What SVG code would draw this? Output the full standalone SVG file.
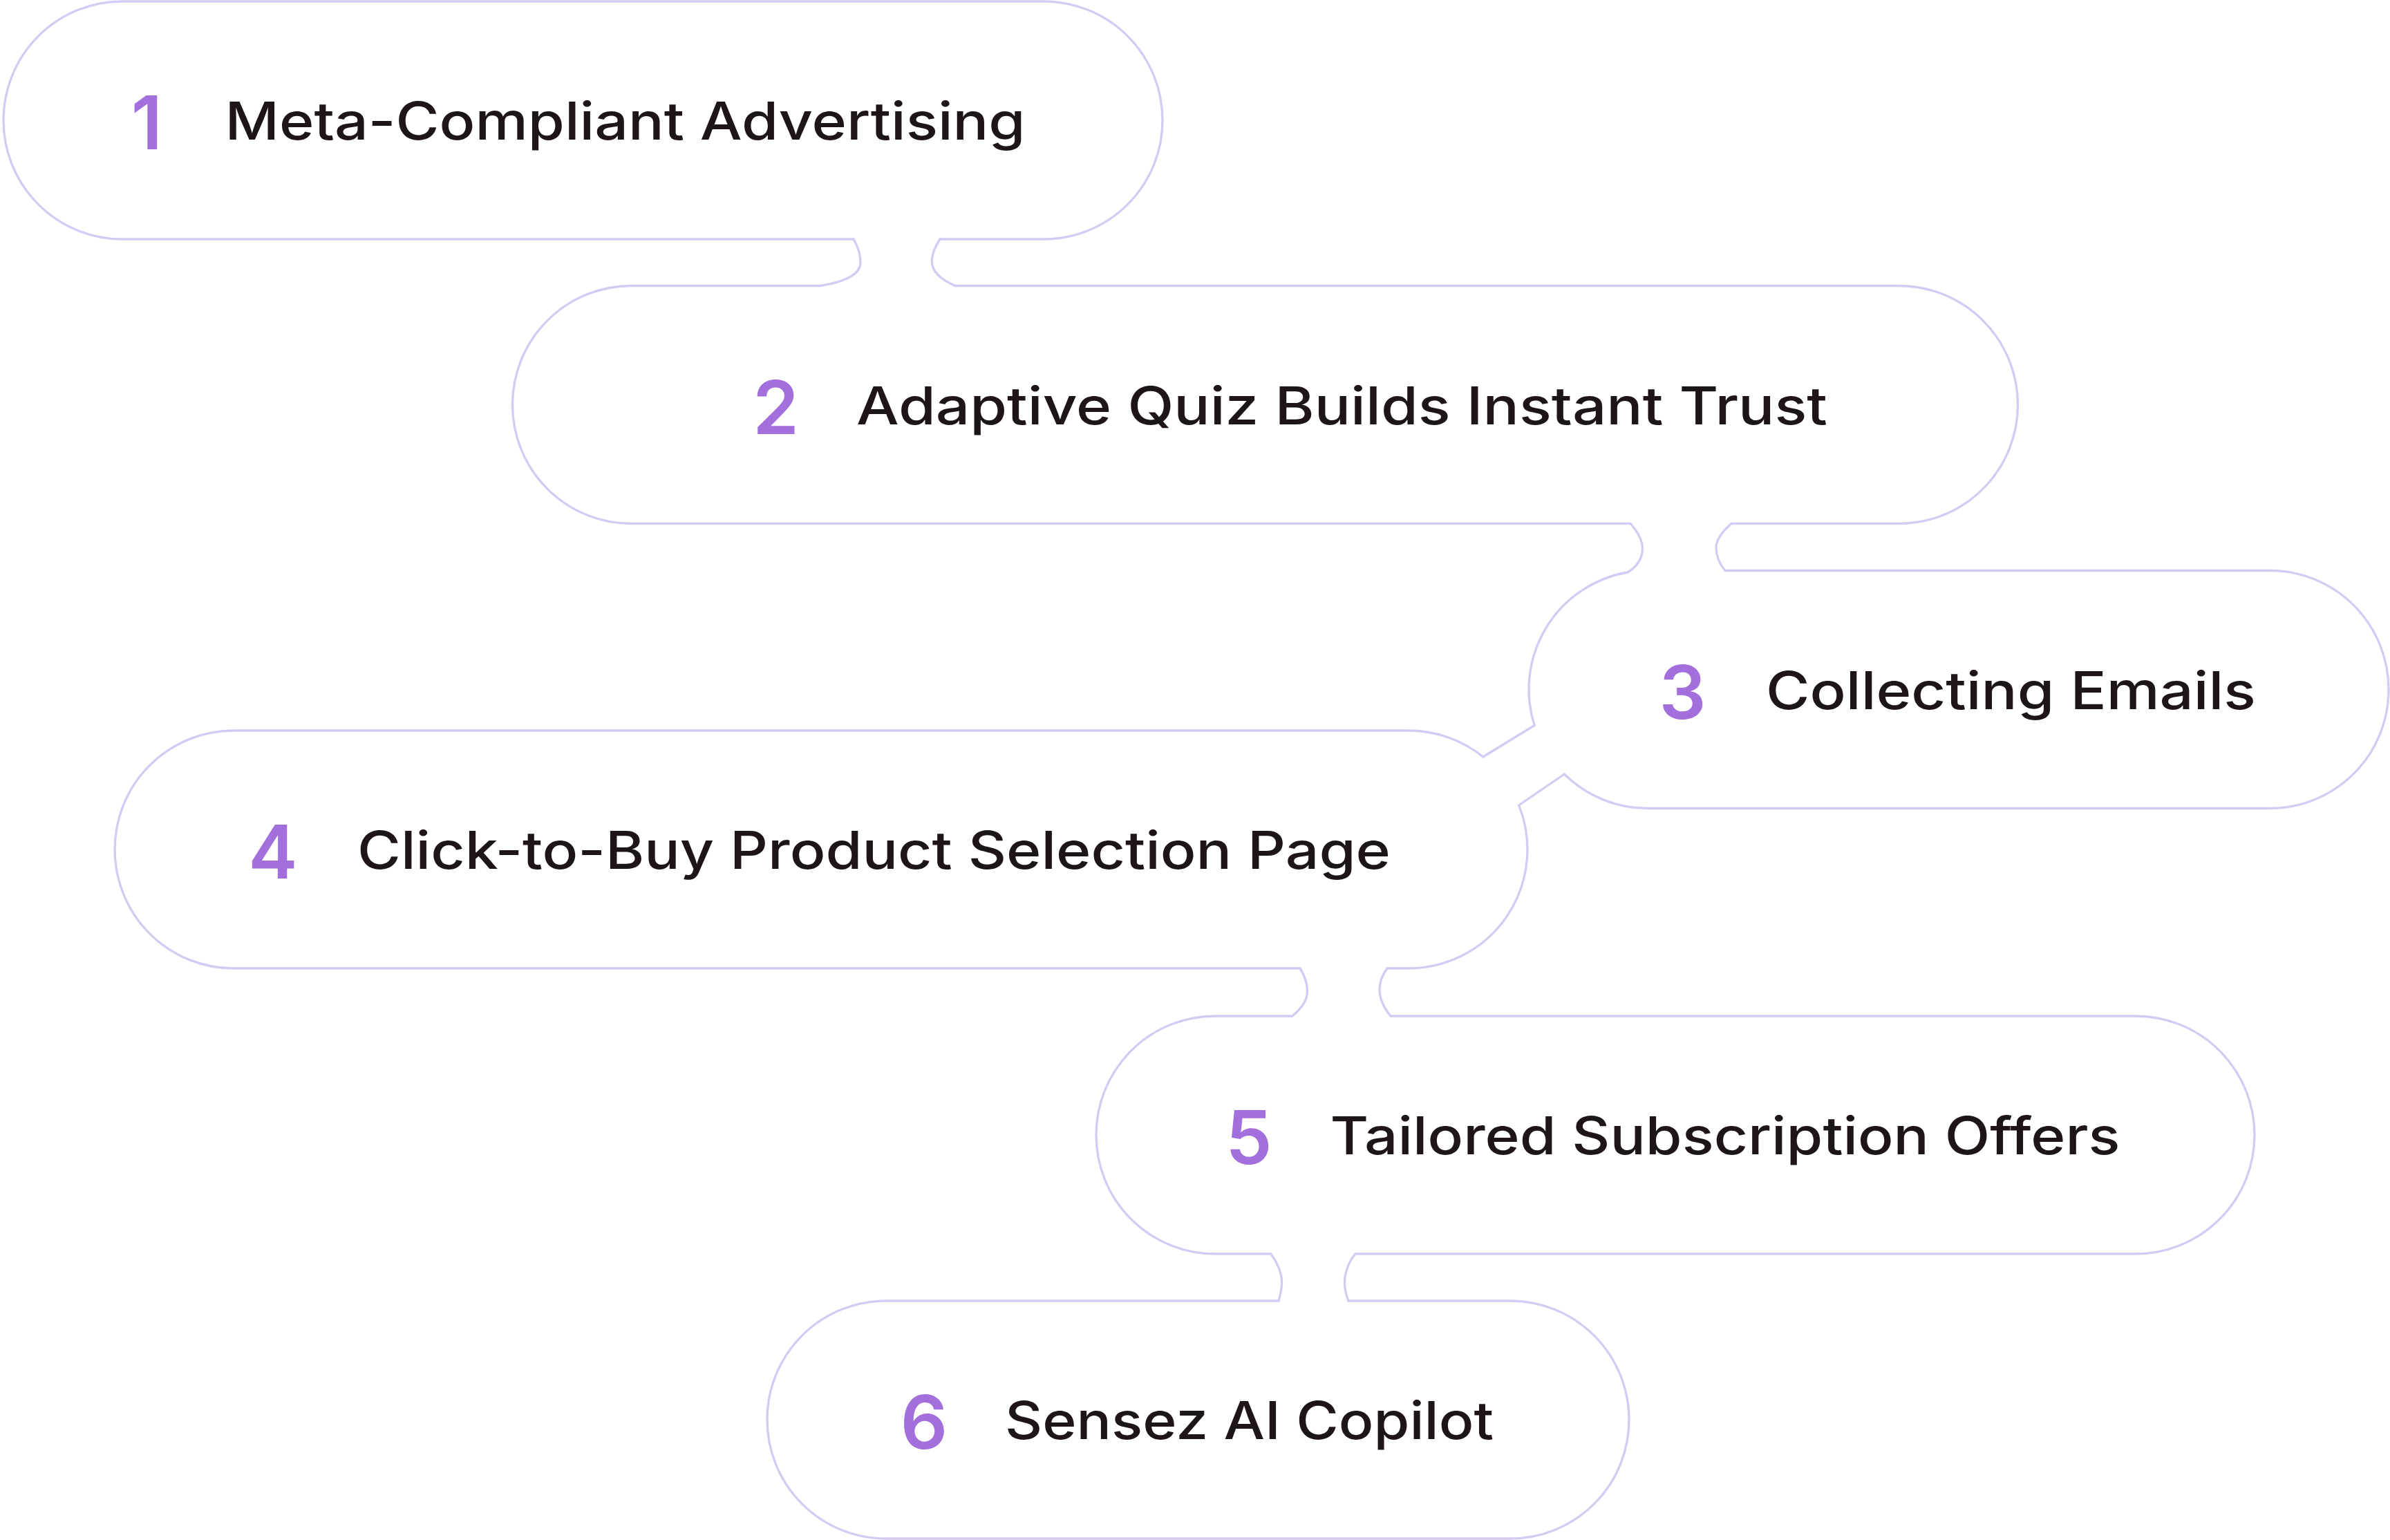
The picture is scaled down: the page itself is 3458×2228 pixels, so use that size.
<svg xmlns="http://www.w3.org/2000/svg" width="3458" height="2228" viewBox="0 0 3458 2228">
<style>
.pill,.conn{fill:none;stroke:#D5CAF3;stroke-width:3.3;stroke-linejoin:round;stroke-linecap:round}
.num{font-family:Inter,"Noto Sans",sans-serif;font-size:107px;font-weight:600;fill:#A36FDD;text-anchor:middle}
.lbl{font-family:Inter,"Noto Sans",sans-serif;font-size:75px;font-weight:500;fill:#1E1518}
</style>
<rect width="3458" height="2228" fill="#FFFFFF"/>
<g id="connectors">
<path class="conn" d="M1235,346 C1242,358 1245,370 1245,380 C1245,398 1220,408 1187,413.5"/>
<path class="conn" d="M1360,346 C1352,358 1348.3,368 1348.3,378 C1348.3,392 1360,404 1382,413.5"/>
<path class="conn" d="M2359,757.5 C2370,770 2376.5,782 2376.5,793 C2376.5,808 2368,820 2355,828"/>
<path class="conn" d="M2505,757.5 C2491,770 2483,782 2483,792 C2483,805 2488,816 2496,825.5"/>
<path class="conn" d="M2220.1,1049.5 L2145.8,1095"/>
<path class="conn" d="M2263.3,1120 L2197.6,1165"/>
<path class="conn" d="M1881,1401 C1888,1412 1891.5,1423 1891.5,1434 C1891.5,1448 1882,1460 1869.6,1470"/>
<path class="conn" d="M2007,1401 C1999,1412 1996,1422 1996,1432 C1996,1448 2004,1460 2012,1470"/>
<path class="conn" d="M1838.7,1814 C1848,1826 1854.6,1842 1854.6,1855 C1854.6,1866 1852,1875 1850,1882"/>
<path class="conn" d="M1961,1814 C1951,1826 1945.5,1842 1945.5,1855 C1945.5,1866 1948,1875 1951,1882"/>
</g>
<g id="node-1">
<path class="pill" d="M1235,346 L177,346 A172,172 0 0 1 177,2 L1510,2 A172,172 0 0 1 1510,346 L1360,346"/>
<text class="num" x="212.4" y="216">1</text>
<text class="lbl" x="325.5" y="201.5" textLength="1158" lengthAdjust="spacingAndGlyphs">Meta-Compliant Advertising</text>
</g>
<g id="node-2">
<path class="pill" d="M1187,413.5 L913.5,413.5 A172,172 0 0 0 913.5,757.5 L2359,757.5 M2505,757.5 L2747.5,757.5 A172,172 0 0 0 2747.5,413.5 L1382,413.5"/>
<text class="num" x="1122.5" y="627.5">2</text>
<text class="lbl" x="1239" y="613.5" textLength="1405" lengthAdjust="spacingAndGlyphs">Adaptive Quiz Builds Instant Trust</text>
</g>
<g id="node-3">
<path class="pill" d="M2496,825.5 L3284,825.5 A172,172 0 0 1 3284,1169.5 L2384,1169.5 A172,172 0 0 1 2263.3,1120 M2220.1,1049.5 A172,172 0 0 1 2355,828"/>
<text class="num" x="2434.5" y="1039.5">3</text>
<text class="lbl" x="2555" y="1025.5" textLength="709" lengthAdjust="spacingAndGlyphs">Collecting Emails</text>
</g>
<g id="node-4">
<path class="pill" d="M2145.8,1095 A172,172 0 0 0 2038,1057 L338,1057 A172,172 0 0 0 338,1401 L1881,1401 M2007,1401 L2038,1401 A172,172 0 0 0 2197.6,1165"/>
<text class="num" x="395" y="1271">4</text>
<text class="lbl" x="517" y="1257" textLength="1495" lengthAdjust="spacingAndGlyphs">Click-to-Buy Product Selection Page</text>
</g>
<g id="node-5">
<path class="pill" d="M1869.6,1470 L1758,1470 A172,172 0 0 0 1758,1814 L1838.7,1814 M1961,1814 L3090,1814 A172,172 0 0 0 3090,1470 L2012,1470"/>
<text class="num" x="1807" y="1684">5</text>
<text class="lbl" x="1924.5" y="1670" textLength="1143" lengthAdjust="spacingAndGlyphs">Tailored Subscription Offers</text>
</g>
<g id="node-6">
<path class="pill" d="M1850,1882 L1282,1882 A172,172 0 0 0 1282,2226 L2185,2226 A172,172 0 0 0 2185,1882 L1951,1882"/>
<text class="num" x="1337" y="2096">6</text>
<text class="lbl" x="1454" y="2082" textLength="707" lengthAdjust="spacingAndGlyphs">Sensez AI Copilot</text>
</g>
</svg>
